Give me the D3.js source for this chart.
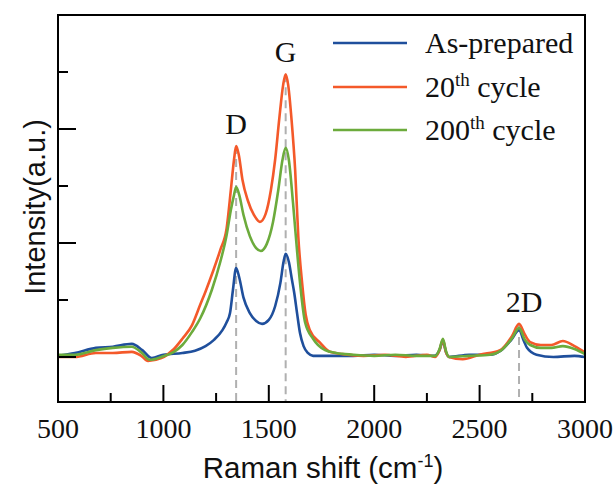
<!DOCTYPE html>
<meta charset="utf-8">
<script src="https://cdn.jsdelivr.net/npm/d3@7"></script>
<style>
body { margin: 0; background: #fff; }
.tick-label { font: 28px "Liberation Serif", "Times New Roman", serif; fill: #111; }
.peak-label { font: 30px "Liberation Serif", "Times New Roman", serif; fill: #111; }
.legend-text { font: 30px "Liberation Serif", "Times New Roman", serif; fill: #111; }
.axis-title { font: 29.5px "Liberation Sans", Arial, sans-serif; fill: #111; }
path.spec { fill: none; stroke-width: 2.6px; stroke-linejoin: round; }
</style>
<body>
<script>

// Raman shift (cm-1) / intensity (a.u.)
var asPrepared = [
  [500,0.02],[580,0.07],[680,0.16],[760,0.18],[850,0.23],[900,0.12],[945,-0.02],[1000,0.04],
  [1090,0.07],[1150,0.11],[1200,0.19],[1240,0.30],[1280,0.47],[1300,0.61],[1316,0.77],[1330,1.18],
  [1345,1.56],[1360,1.39],[1380,1.04],[1410,0.77],[1440,0.63],[1468,0.58],[1500,0.65],[1530,0.89],
  [1555,1.30],[1570,1.67],[1580,1.81],[1595,1.67],[1610,1.35],[1620,1.14],[1634,0.77],[1648,0.42],
  [1665,0.19],[1685,0.07],[1710,0.02],[1800,0.02],[1900,0.02],[2000,0.04],[2100,0.02],[2200,0.04],
  [2285,0.02],[2310,0.12],[2326,0.28],[2340,0.09],[2355,0.0],[2450,0.04],[2550,0.04],[2600,0.11],
  [2650,0.30],[2687,0.47],[2710,0.28],[2725,0.16],[2770,0.04],[2850,0.0],[2950,0.02],[3000,0.0]
];

var cycle20 = [
  [500,0.0],[580,0.0],[680,0.07],[760,0.07],[850,0.09],[895,0.02],[927,-0.07],[990,-0.02],
  [1050,0.14],[1090,0.32],[1136,0.56],[1175,0.92],[1200,1.15],[1235,1.50],[1270,1.88],[1300,2.26],
  [1320,2.93],[1335,3.46],[1345,3.70],[1358,3.54],[1375,3.11],[1400,2.75],[1430,2.49],[1458,2.37],
  [1485,2.51],[1510,2.93],[1530,3.46],[1550,4.19],[1568,4.77],[1580,4.96],[1592,4.77],[1608,4.16],
  [1625,3.28],[1640,2.11],[1658,1.30],[1675,0.74],[1695,0.47],[1743,0.25],[1790,0.09],[1850,0.05],
  [1950,0.02],[2050,0.04],[2150,0.0],[2250,0.04],[2290,0.0],[2310,0.12],[2326,0.30],[2340,0.09],
  [2355,0.0],[2420,-0.04],[2500,0.04],[2597,0.12],[2654,0.37],[2687,0.58],[2715,0.39],[2740,0.26],
  [2790,0.21],[2840,0.21],[2895,0.28],[2950,0.19],[3000,0.08]
];

var cycle200 = [
  [500,0.04],[580,0.04],[680,0.12],[760,0.16],[850,0.18],[898,0.07],[935,-0.05],[990,0.0],
  [1050,0.09],[1090,0.21],[1136,0.44],[1175,0.68],[1230,1.18],[1270,1.67],[1300,2.14],[1320,2.58],
  [1335,2.84],[1345,2.98],[1360,2.84],[1380,2.49],[1410,2.12],[1440,1.91],[1462,1.86],[1490,1.98],
  [1520,2.37],[1545,2.93],[1565,3.46],[1580,3.67],[1595,3.46],[1615,2.70],[1635,1.82],[1650,1.23],
  [1672,0.61],[1710,0.32],[1767,0.12],[1820,0.07],[1900,0.04],[2000,0.02],[2100,0.04],[2200,0.02],
  [2290,0.02],[2310,0.14],[2326,0.32],[2340,0.11],[2355,0.0],[2450,0.02],[2550,0.04],[2600,0.11],
  [2654,0.33],[2687,0.51],[2715,0.30],[2740,0.21],[2790,0.16],[2840,0.16],[2895,0.19],[2950,0.14],
  [3000,0.05]
];

var seriesNames = ["As-prepared", "20th cycle", "200th cycle"];
var seriesColors = ["#1f4f9c", "#f4592a", "#6cab3c"];
var peakNames = ["D", "G", "2D"];
var peakShifts = [1345, 1580, 2687];
var xTicks = [500, 1000, 1500, 2000, 2500, 3000];

var width = 616, height = 484;
var margin = {left: 58, top: 15, right: 31, bottom: 82};

var svg = d3.select("body").append("svg")
    .attr("width", width)
    .attr("height", height);

var x = d3.scaleLinear()
    .domain([500, 3000])
    .range([margin.left, width - margin.right]);

// one unit = one y tick step
var y = d3.scaleLinear()
    .domain([-0.79, 6.0])
    .range([height - margin.bottom, margin.top]);

var allSeries = [asPrepared, cycle20, cycle200];

// dashed guide lines under the peaks (from the tallest curve down)
peakShifts.forEach(function(p, i) {
  var top = d3.max(allSeries, function(s) {
    var hit = s.find(function(d) { return d[0] == p; });
    return hit ? hit[1] : 0;
  });
  svg.append("line")
      .attr("x1", x(p)).attr("x2", x(p))
      .attr("y1", y(top)).attr("y2", y(-0.79))
      .style("stroke", "#b0b0b0")
      .style("stroke-width", 2)
      .style("stroke-dasharray", "8,5");

  svg.append("text")
      .attr("class", "peak-label")
      .attr("x", x(p) + (peakNames[i] == "2D" ? 5 : 0))
      .attr("y", y(top) - 12)
      .attr("text-anchor", "middle")
      .text(peakNames[i]);
});

var line = d3.line()
    .x(function(d) { return x(d[0]); })
    .y(function(d) { return y(d[1]); })
    .curve(d3.curveMonotoneX);

allSeries.forEach(function(s, i) {
  svg.append("path")
      .attr("class", "spec")
      .attr("d", line(s))
      .style("stroke", seriesColors[i]);
});

// frame
svg.append("rect")
    .attr("x", margin.left)
    .attr("y", margin.top)
    .attr("width", width - margin.left - margin.right)
    .attr("height", height - margin.top - margin.bottom)
    .style("fill", "none")
    .style("stroke", "#000")
    .style("stroke-width", 2);

// x ticks, inward
var xb = height - margin.bottom;
d3.range(500, 3001, 250).forEach(function(v) {
  var major = v % 500 == 0;
  svg.append("line")
      .attr("x1", x(v)).attr("x2", x(v))
      .attr("y1", xb).attr("y2", xb - (major ? 17 : 9))
      .style("stroke", "#000").style("stroke-width", 2);
});
xTicks.forEach(function(v) {
  svg.append("text")
      .attr("class", "tick-label")
      .attr("x", x(v))
      .attr("y", 438)
      .attr("text-anchor", "middle")
      .text(v);
});

// y ticks, inward, no labels
d3.range(0, 6).forEach(function(v) {
  var major = v % 2 == 0;
  svg.append("line")
      .attr("x1", margin.left).attr("x2", margin.left + (major ? 18 : 10))
      .attr("y1", y(v)).attr("y2", y(v))
      .style("stroke", "#000").style("stroke-width", 2);
});

// axis titles
var xt = svg.append("text")
    .attr("class", "axis-title")
    .attr("x", 323)
    .attr("y", 478)
    .attr("text-anchor", "middle");
xt.append("tspan").text("Raman shift (cm");
xt.append("tspan").attr("dy", -11).style("font-size", "18px").text("-1");
xt.append("tspan").attr("dy", 11).text(")");

svg.append("text")
    .attr("class", "axis-title")
    .attr("transform", "translate(45,207) rotate(-90)")
    .attr("text-anchor", "middle")
    .style("font-size", "29px")
    .text("Intensity(a.u.)");

// legend
var legendY = [43, 87, 130];
seriesNames.forEach(function(name, i) {
  var g = svg.append("g");
  g.append("line")
      .attr("x1", 333).attr("x2", 407)
      .attr("y1", legendY[i]).attr("y2", legendY[i])
      .style("stroke", seriesColors[i])
      .style("stroke-width", 2.6);
  var t = g.append("text")
      .attr("class", "legend-text")
      .attr("x", 425)
      .attr("y", legendY[i] + 10);
  var m = name.match(/^(\d+)(th)(.*)$/);
  if (m) {
    t.append("tspan").text(m[1]);
    t.append("tspan").attr("dy", -11).style("font-size", "19px").text(m[2]);
    t.append("tspan").attr("dy", 11).text(m[3]);
  } else {
    t.text(name);
  }
});

</script>
</body>
